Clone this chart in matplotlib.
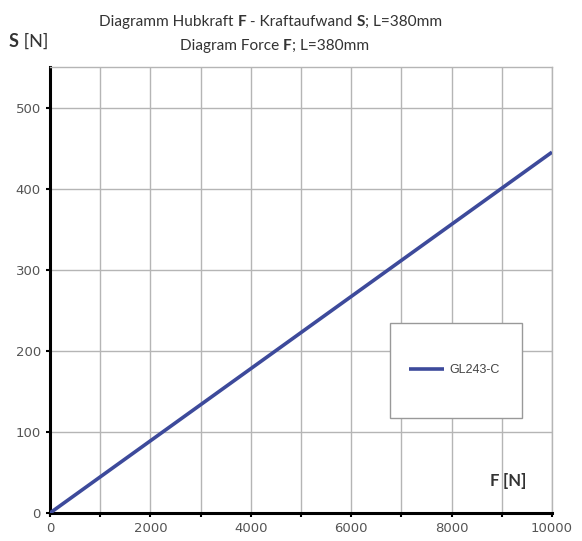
import matplotlib.pyplot as plt
from matplotlib.patches import Rectangle
from matplotlib.ticker import MultipleLocator

# data
force = [0, 10000]
effort = [0, 445]
series_name = 'GL243-C'
x_ticks = [0, 2000, 4000, 6000, 8000, 10000]
y_ticks = [0, 100, 200, 300, 400, 500]

plt.rcParams['font.family'] = ['Lato', 'DejaVu Sans']

W, H = 582, 541
fig = plt.figure(figsize=(W / 100, H / 100), dpi=100)
ax = fig.add_axes([50 / W, 1 - 513 / H, 502 / W, 446 / H])

line, = ax.plot(force, effort, color='#3d4a9b', linewidth=2.6, solid_capstyle='butt', zorder=3)

ax.set_xlim(0, 10000)
ax.set_ylim(0, 550)
ax.set_xticks(x_ticks)
ax.xaxis.set_minor_locator(MultipleLocator(1000))
ax.set_yticks(y_ticks)
ax.grid(True, which='both', color='#b5b5b5', linewidth=1.0)
ax.tick_params(which='both', direction='out', length=3, width=1.5, color='black',
               labelsize=9.5, labelcolor='#555555')
for lbl in ax.get_xticklabels() + ax.get_yticklabels():
    lbl.set_family('DejaVu Sans')

for side in ['top', 'right']:
    ax.spines[side].set_color('#b5b5b5')
    ax.spines[side].set_linewidth(1.0)
for side in ['left', 'bottom']:
    ax.spines[side].set_color('black')
    ax.spines[side].set_linewidth(2.2)

# legend: white box with grey border, entry inside
box = Rectangle((0.677, 0.213), 0.263, 0.214, transform=ax.transAxes, facecolor='white',
                edgecolor='#999999', linewidth=1.0, zorder=4)
ax.add_patch(box)
leg = ax.legend([line], [series_name], loc='center left', bbox_to_anchor=(0.716, 0.32),
                borderaxespad=0, borderpad=0, frameon=False,
                prop={'family': 'Liberation Sans', 'size': 9},
                handlelength=2.8, handletextpad=0.4, labelcolor='#444444')
leg.set_zorder(5)


def chain(x, y, parts, size=11.5):
    # text made of plain and bold pieces, placed one after another
    prev = fig.text(x / W, 1 - y / H, parts[0][0], fontsize=size, fontweight=parts[0][1],
                    color='#333333', va='baseline')
    for txt, wt in parts[1:]:
        prev = ax.annotate(txt, xy=(1, 0), xycoords=prev, va='bottom', ha='left',
                           fontsize=size, fontweight=wt, color='#333333', annotation_clip=False)


chain(99, 26, [('Diagramm Hubkraft ', 'normal'), ('F', 'bold'), (' - Kraftaufwand ', 'normal'),
               ('S', 'bold'), ('; L=380mm', 'normal')], size=11.1)
chain(180, 50, [('Diagram Force ', 'normal'), ('F', 'bold'), ('; L=380mm', 'normal')], size=11.1)

chain(9, 47, [('S', 'bold'), (' [N]', 'normal')], size=13)
chain(490, 486, [('F', 'bold'), (' [N]', 'bold')], size=12)

fig.savefig('out.png', dpi=100, facecolor='white')
